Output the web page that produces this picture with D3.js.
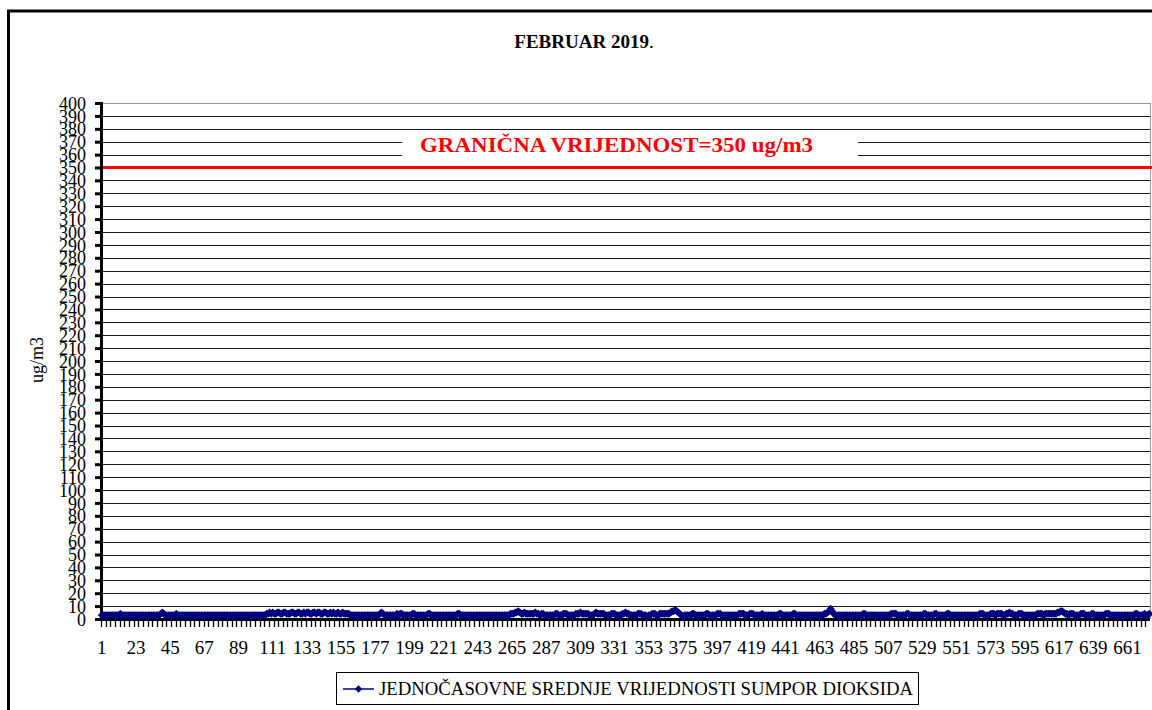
<!DOCTYPE html>
<html>
<head>
<meta charset="utf-8">
<script src="https://cdn.jsdelivr.net/npm/d3@7"></script>
<style>
  html, body { margin: 0; padding: 0; background: #fff; }
  svg { display: block; }
  svg text { font-family: "Liberation Serif", "Times New Roman", "DejaVu Serif", serif; }
</style>
</head>
<body>
<svg id="chart" width="1152" height="710"></svg>
<script>
// hourly SO2 means, February 2019 (one row per day, 24 h each)
const so2Values = [
  3,3,3,3,3,3,3,3,3,3,3,3,4,3,3,3,3,3,3,3,3,3,3,3,
  3,3,3,3,3,3,3,3,3,3,3,3,3,3,4,5,4,3,3,3,3,3,3,3,
  4,3,3,3,3,3,3,3,3,3,3,3,3,3,3,3,3,3,3,3,3,3,3,3,
  3,3,3,3,3,3,3,3,3,3,3,3,3,3,3,3,3,3,3,3,3,3,3,3,
  3,3,3,3,3,3,3,3,3,3,4,4,5,4,5,4,4,5,5,4,4,5,5,4,
  4,4,5,5,4,4,5,5,4,4,5,4,5,5,4,4,5,5,4,5,5,4,4,5,
  5,4,4,5,4,5,4,4,5,4,4,5,4,4,4,4,3,3,3,3,3,3,3,3,
  3,3,3,3,3,3,3,3,3,3,3,4,5,4,3,3,3,3,3,3,3,3,4,3,
  4,4,3,3,3,3,3,3,4,4,3,3,3,3,3,3,3,3,4,4,3,3,3,3,
  3,3,3,3,3,3,3,3,3,3,3,3,3,4,4,3,3,3,3,3,3,3,3,3,
  3,3,3,3,3,3,3,3,3,3,3,3,3,3,3,3,3,3,3,3,3,3,3,4,
  4,4,5,5,6,5,4,4,5,4,4,4,4,4,4,5,4,4,3,4,4,3,3,3,
  3,3,3,3,4,4,3,3,3,4,4,4,3,3,3,3,3,4,4,4,5,4,4,4,
  4,4,3,3,3,4,5,4,4,4,4,4,3,3,3,3,4,4,4,3,3,3,3,4,
  4,5,4,4,3,3,3,3,3,4,4,4,3,3,3,2,3,3,4,4,4,3,3,4,
  4,4,4,4,4,4,5,6,6,7,6,5,4,3,2,3,3,3,3,3,4,4,3,3,
  3,3,3,3,3,4,4,3,3,3,3,3,4,4,4,3,3,3,3,3,3,3,3,3,
  3,3,4,4,4,4,3,3,3,4,4,4,3,3,3,3,3,4,3,3,3,3,3,3,
  3,3,3,3,4,4,3,3,3,3,3,3,3,4,4,3,3,3,3,3,3,3,3,3,
  3,3,3,3,3,3,3,3,3,4,4,5,6,8,6,4,3,3,3,3,3,3,3,3,
  3,3,3,3,3,3,3,3,3,3,4,4,3,3,3,3,3,3,3,3,3,3,3,3,
  3,3,3,3,4,4,4,4,3,3,3,3,3,3,4,4,3,3,3,3,3,3,3,3,
  3,4,4,3,3,3,3,3,4,4,3,3,3,3,3,3,4,4,3,3,3,3,3,3,
  3,3,3,3,3,3,3,3,3,3,3,3,3,4,4,4,3,3,3,3,4,4,4,3,
  4,4,4,4,3,3,4,4,5,4,4,3,3,3,4,4,4,3,3,3,3,3,3,3,
  3,3,4,4,4,4,3,4,4,4,4,4,4,4,4,5,5,6,6,5,4,4,3,4,
  4,4,3,3,3,3,4,4,4,3,3,3,3,4,4,3,3,3,3,3,3,3,4,4,
  4,3,3,3,3,3,3,3,3,3,3,3,3,3,3,3,3,4,4,3,3,3,3,4,
  3,3,4
];
const hours = so2Values.map((v, i) => i + 1);
const xTickLabels = d3.range(1, hours.length, 22);   // 1, 23, 45 ... 661
const yTicks = d3.range(0, 401, 10);
const limitValue = 350;

const FONT = '"Liberation Serif", "Times New Roman", serif';
const svg = d3.select('#chart');

// outer frame (clipped on the right and bottom like the original)
svg.append('rect')
  .attr('x', 8.5).attr('y', 11)
  .attr('width', 1200).attr('height', 760)
  .attr('fill', 'none').attr('stroke', '#000').attr('stroke-width', 3);

const plotLeft = 101, plotRight = 1150, plotTop = 103, plotBottom = 619;

const x = d3.scaleBand().domain(hours).range([plotLeft, plotRight]).padding(0);
const y = d3.scaleLinear().domain([0, 400]).range([plotBottom, plotTop]);
const cx = h => x(h) + x.bandwidth() / 2;

// horizontal gridlines
svg.append('g')
  .selectAll('line')
  .data(yTicks.filter(d => d > 0))
  .join('line')
  .attr('x1', plotLeft).attr('x2', plotRight)
  .attr('y1', d => Math.round(y(d)) + 0.5).attr('y2', d => Math.round(y(d)) + 0.5)
  .attr('stroke', d => d === 400 ? '#9a9a9a' : '#1a1a1a')
  .attr('stroke-width', 1);

// right border of plot area
svg.append('line')
  .attr('x1', plotRight + 0.5).attr('x2', plotRight + 0.5)
  .attr('y1', plotTop).attr('y2', plotBottom)
  .attr('stroke', '#9a9a9a');

// limit line
svg.append('line')
  .attr('x1', plotLeft).attr('x2', 1152)
  .attr('y1', y(limitValue)).attr('y2', y(limitValue))
  .attr('stroke', '#ff0000').attr('stroke-width', 3);

// limit label with white background
svg.append('rect')
  .attr('x', 402).attr('y', 132)
  .attr('width', 456).attr('height', 29)
  .attr('fill', '#fff');
svg.append('text')
  .attr('x', 420).attr('y', 152)
  .attr('font-family', FONT)
  .attr('fill', '#ff0000')
  .attr('font-weight', 'bold')
  .attr('font-size', 22)
  .attr('textLength', 393)
  .attr('lengthAdjust', 'spacingAndGlyphs')
  .text('GRANIČNA VRIJEDNOST=350 ug/m3');

// y axis
const yAxis = svg.append('g')
  .attr('transform', `translate(${plotLeft},0)`)
  .call(d3.axisLeft(y).tickValues(yTicks).tickSize(6).tickPadding(9));
yAxis.attr('font-family', FONT).attr('font-size', 18);
yAxis.select('.domain').attr('stroke', '#000').attr('stroke-width', 3);
yAxis.selectAll('.tick line').attr('stroke', '#000').attr('stroke-width', 3);
yAxis.selectAll('.tick text')
  .attr('font-family', FONT)
  .attr('font-size', 18)
  .attr('dy', '0.34em')
  .attr('fill', '#000');

// x axis line
svg.append('line')
  .attr('x1', plotLeft - 6).attr('x2', plotRight)
  .attr('y1', plotBottom + 0.5).attr('y2', plotBottom + 0.5)
  .attr('stroke', '#000').attr('stroke-width', 3);

// x tick marks every 3 categories
svg.append('g')
  .selectAll('line')
  .data(hours.filter((h, i) => i % 3 === 0))
  .join('line')
  .attr('x1', h => Math.round(x(h)) + 0.5).attr('x2', h => Math.round(x(h)) + 0.5)
  .attr('y1', plotBottom).attr('y2', plotBottom + 8)
  .attr('stroke', '#000').attr('stroke-width', 1.3);

// x tick labels
const xAxis = svg.append('g')
  .attr('transform', `translate(0,${plotBottom + 21})`)
  .call(d3.axisBottom(x).tickValues(xTickLabels).tickSize(0).tickPadding(0));
xAxis.attr('font-family', FONT).attr('font-size', 19);
xAxis.select('.domain').remove();
xAxis.selectAll('.tick text')
  .attr('font-family', FONT)
  .attr('font-size', 19)
  .attr('fill', '#000');

// series line + square-rotated diamond markers (Excel style)
const excelDiamond = {
  draw(ctx, size) {
    const r = Math.sqrt(size / 2);
    ctx.moveTo(0, -r); ctx.lineTo(r, 0); ctx.lineTo(0, r); ctx.lineTo(-r, 0); ctx.closePath();
  }
};
const line = d3.line().x((d, i) => cx(hours[i])).y(d => y(d));
svg.append('path')
  .datum(so2Values)
  .attr('d', line)
  .attr('fill', 'none')
  .attr('stroke', '#000080')
  .attr('stroke-width', 2);

svg.append('g')
  .selectAll('path')
  .data(so2Values)
  .join('path')
  .attr('d', d3.symbol().type(excelDiamond).size(32))
  .attr('transform', (d, i) => `translate(${cx(hours[i])},${y(d)})`)
  .attr('fill', '#000080');

// title
svg.append('text')
  .attr('x', 584).attr('y', 48)
  .attr('text-anchor', 'middle')
  .attr('font-family', FONT)
  .attr('font-size', 19)
  .attr('font-weight', 'bold')
  .text('FEBRUAR 2019')
  .append('tspan').attr('font-weight', 'normal').text('.');

// y axis title
svg.append('text')
  .attr('transform', 'translate(43,360) rotate(-90)')
  .attr('text-anchor', 'middle')
  .attr('font-family', FONT)
  .attr('font-size', 18)
  .text('ug/m3');

// legend
const legend = svg.append('g');
legend.append('rect')
  .attr('x', 336.5).attr('y', 672.5)
  .attr('width', 582).attr('height', 32)
  .attr('fill', '#fff').attr('stroke', '#000');
legend.append('line')
  .attr('x1', 343).attr('x2', 374)
  .attr('y1', 689).attr('y2', 689)
  .attr('stroke', '#000080').attr('stroke-width', 1.5);
legend.append('path')
  .attr('d', d3.symbol().type(excelDiamond).size(28))
  .attr('transform', 'translate(358.5,689)')
  .attr('fill', '#000080');
legend.append('text')
  .attr('x', 379).attr('y', 695)
  .attr('font-family', FONT)
  .attr('font-size', 18)
  .attr('textLength', 534)
  .attr('lengthAdjust', 'spacingAndGlyphs')
  .text('JEDNOČASOVNE SREDNJE VRIJEDNOSTI SUMPOR DIOKSIDA');
</script>
</body>
</html>
